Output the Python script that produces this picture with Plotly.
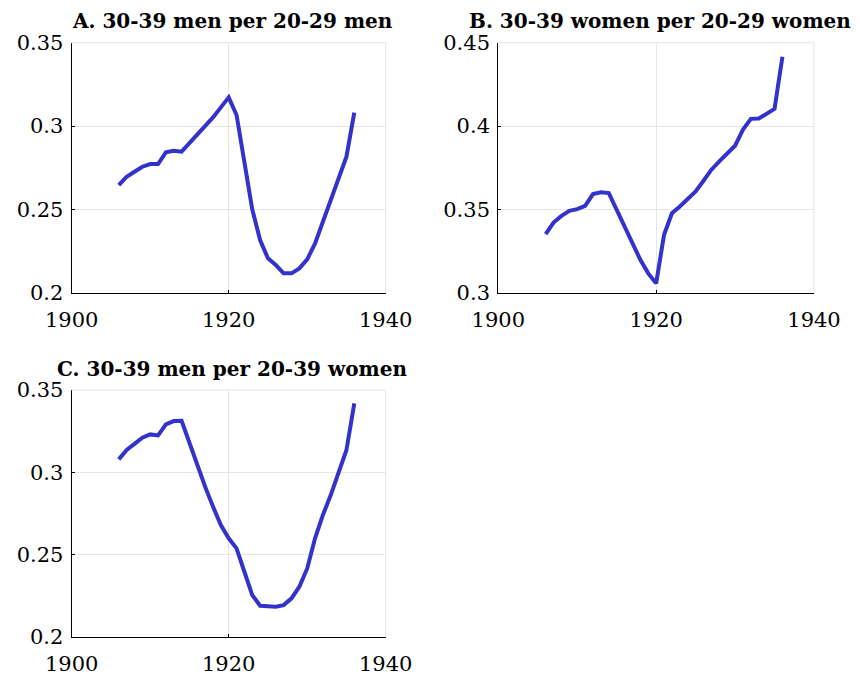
import plotly.graph_objects as go

years = list(range(1906, 1937))

men_ratio = [0.2646, 0.2696, 0.2726, 0.2756, 0.2772, 0.2772, 0.2842, 0.2852, 0.2846,
             0.2896, 0.2946, 0.2996, 0.3052, 0.3112, 0.3172, 0.3066, 0.2776, 0.2500,
             0.2316, 0.2206, 0.2166, 0.2116, 0.2116, 0.2146, 0.2200, 0.2296, 0.2426,
             0.2556, 0.2686, 0.2816, 0.3080]

women_ratio = [0.3351, 0.3421, 0.3461, 0.3491, 0.3501, 0.3521, 0.3592, 0.3602, 0.3598,
               0.3497, 0.3387, 0.3287, 0.3197, 0.3116, 0.3056, 0.3347, 0.3477, 0.3517,
               0.3562, 0.3608, 0.3672, 0.3738, 0.3788, 0.3838, 0.3882, 0.3979, 0.4043,
               0.4045, 0.4075, 0.4103, 0.4416]

men_per_women = [0.3078, 0.3135, 0.3172, 0.3210, 0.3230, 0.3224, 0.3291, 0.3311, 0.3313,
                 0.3176, 0.3044, 0.2912, 0.2791, 0.2679, 0.2598, 0.2537, 0.2395, 0.2253,
                 0.2188, 0.2182, 0.2182, 0.2192, 0.2233, 0.2304, 0.2415, 0.2598, 0.2740,
                 0.2861, 0.2993, 0.3135, 0.3419]

titles = ["A. 30-39 men per 20-29 men", "B. 30-39 women per 20-29 women",
          "C. 30-39 men per 20-39 women"]

x_ticks = [1900, 1920, 1940]
yticks_a = [0.2, 0.25, 0.3, 0.35]
yticks_b = [0.3, 0.35, 0.4, 0.45]
yticks_c = [0.2, 0.25, 0.3, 0.35]

W, H = 860, 675
panels = [
    dict(data=men_ratio, yt=yticks_a, x0=71.7, x1=385.7, y0=42.7, y1=292.7),
    dict(data=women_ratio, yt=yticks_b, x0=498.3, x1=814.0, y0=42.7, y1=292.7),
    dict(data=men_per_women, yt=yticks_c, x0=71.7, x1=385.7, y0=390.0, y1=636.7),
]

font_family = "DejaVu Serif, Liberation Serif, serif"
line_color = "#3333cc"

fig = go.Figure()
layout = dict(
    width=W, height=H,
    margin=dict(l=0, r=0, t=0, b=0, autoexpand=False),
    paper_bgcolor="white", plot_bgcolor="white",
    showlegend=False,
    font=dict(family=font_family, size=21, color="black"),
    annotations=[], shapes=[],
)

for i, p in enumerate(panels):
    n = "" if i == 0 else str(i + 1)
    fig.add_trace(go.Scatter(x=years, y=p["data"], mode="lines",
                             line=dict(color=line_color, width=4),
                             xaxis="x" + n, yaxis="y" + n))
    xd = [p["x0"] / W, p["x1"] / W]
    yd = [1 - p["y1"] / H, 1 - p["y0"] / H]
    common = dict(showgrid=True, gridcolor="#e6e6e6", gridwidth=1,
                  showline=True, linecolor="black", linewidth=1.2,
                  ticks="inside", ticklen=3, tickcolor="black",
                  zeroline=False, mirror=False, automargin=False,
                  tickfont=dict(family=font_family, size=21, color="black"))
    layout["xaxis" + n] = dict(domain=xd, range=[1900, 1940], tickvals=x_ticks,
                               ticktext=[str(v) for v in x_ticks],
                               anchor="y" + n, ticklabelstandoff=8, **common)
    layout["yaxis" + n] = dict(domain=yd, range=[p["yt"][0], p["yt"][-1]],
                               tickvals=p["yt"], ticktext=[f"{v:g}" for v in p["yt"]],
                               anchor="x" + n, ticklabelstandoff=3, **common)
    layout["annotations"].append(dict(
        text="<b>" + titles[i] + "</b>", xref="paper", yref="paper",
        x=((p["x0"] + p["x1"]) / 2 + 3.5) / W, y=1 - (p["y0"] - 21.5) / H,
        xanchor="center", yanchor="middle", showarrow=False,
        font=dict(family=font_family, size=20, color="black")))
    # top and right frame lines (light gray)
    layout["shapes"].append(dict(type="line", xref="paper", yref="paper",
                                 x0=xd[0], x1=xd[1], y0=yd[1], y1=yd[1],
                                 line=dict(color="#e6e6e6", width=1)))
    layout["shapes"].append(dict(type="line", xref="paper", yref="paper",
                                 x0=xd[1], x1=xd[1], y0=yd[0], y1=yd[1],
                                 line=dict(color="#e6e6e6", width=1)))

fig.update_layout(**layout)
fig.write_html("out.html")
